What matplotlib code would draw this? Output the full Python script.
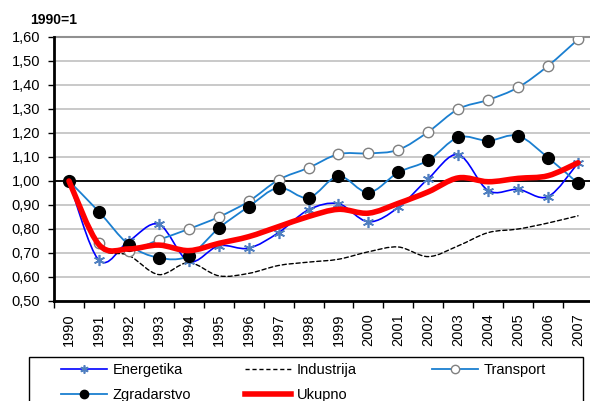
#Indeks emisija po sektorima, 1990=1
import matplotlib
matplotlib.use('Agg')
import matplotlib.pyplot as plt
from matplotlib.path import Path
from matplotlib.patches import PathPatch, Rectangle
from matplotlib.lines import Line2D
from matplotlib.ticker import MultipleLocator, FuncFormatter, FixedLocator

plt.rcParams['font.family'] = ['Liberation Sans', 'DejaVu Sans']

years = [str(y) for y in range(1990, 2008)]

Energetika = [1.00, 0.67, 0.75, 0.82, 0.665, 0.73, 0.72, 0.785, 0.88, 0.905, 0.83, 0.89,
              1.01, 1.11, 0.96, 0.965, 0.935, 1.075]
Industrija = [1.00, 0.73, 0.69, 0.61, 0.66, 0.605, 0.615, 0.648, 0.662, 0.674, 0.705, 0.725,
              0.685, 0.73, 0.785, 0.80, 0.825, 0.855]
Transport = [1.00, 0.74, 0.71, 0.755, 0.80, 0.85, 0.915, 1.005, 1.055, 1.112, 1.115, 1.13,
             1.205, 1.30, 1.338, 1.39, 1.48, 1.59]
Zgradarstvo = [1.00, 0.872, 0.735, 0.68, 0.688, 0.803, 0.893, 0.972, 0.93, 1.02, 0.952, 1.036,
               1.086, 1.182, 1.168, 1.188, 1.097, 0.99]
Ukupno = [1.00, 0.735, 0.717, 0.733, 0.71, 0.74, 0.768, 0.81, 0.852, 0.882, 0.866, 0.907,
          0.955, 1.013, 0.997, 1.011, 1.022, 1.076]


def smooth_path(x, y):
    #Excel-style smoothed line: bezier segments through the data points
    pts = list(zip(x, y))
    n = len(pts)
    verts = [pts[0]]
    codes = [Path.MOVETO]
    for i in range(n - 1):
        p0 = pts[max(i - 1, 0)]
        p1 = pts[i]
        p2 = pts[i + 1]
        p3 = pts[min(i + 2, n - 1)]
        c1 = (p1[0] + (p2[0] - p0[0]) / 6.0, p1[1] + (p2[1] - p0[1]) / 6.0)
        c2 = (p2[0] - (p3[0] - p1[0]) / 6.0, p2[1] - (p3[1] - p1[1]) / 6.0)
        verts += [c1, c2, p2]
        codes += [Path.CURVE4] * 3
    return Path(verts, codes)


fig = plt.figure(figsize=(5.9, 4.01), dpi=100)
W, H = 590.0, 401.0
ax = fig.add_axes([54 / W, 1 - 301 / H, (593 - 54) / W, (301 - 37) / H])

x = list(range(len(years)))

series = [
    (Energetika, dict(color='#0000FF', lw=1.2, ls='-'),
     dict(marker=(6, 2, 0), ms=8, mec='#4F7FC0', mfc='#4F7FC0', mew=1.2), 'Energetika', 3),
    (Industrija, dict(color='black', lw=1.0, ls=(0, (3, 2))), None, 'Industrija', 3),
    (Transport, dict(color='#1a7fd0', lw=1.3, ls='-'),
     dict(marker='o', ms=7.5, mec='#808080', mfc='white', mew=1.0), 'Transport', 4),
    (Zgradarstvo, dict(color='#1a7fd0', lw=1.3, ls='-'),
     dict(marker='o', ms=8.5, mec='black', mfc='black', mew=1.0), 'Zgradarstvo', 5),
    (Ukupno, dict(color='#FF0000', lw=4.0, ls='-'), None, 'Ukupno', 6),
]

handles = {}
for vals, lstyle, mstyle, name, z in series:
    patch = PathPatch(smooth_path(x, vals), fill=False, edgecolor=lstyle['color'],
                      lw=lstyle['lw'], linestyle=lstyle['ls'], zorder=z, capstyle='round')
    ax.add_patch(patch)
    if mstyle is not None:
        ax.plot(x, vals, linestyle='none', zorder=z + 0.5, **mstyle)
        ls = dict(mstyle)
        ls['ms'] = 6
        h = Line2D([], [], color=lstyle['color'], lw=lstyle['lw'], **ls)
    else:
        h = Line2D([], [], color=lstyle['color'], lw=lstyle['lw'], linestyle=lstyle['ls'])
    handles[name] = h

ax.set_xlim(-0.5, len(years) - 0.5)
ax.set_ylim(0.5, 1.6)

#y axis
ax.yaxis.set_major_locator(MultipleLocator(0.1))
ax.yaxis.set_major_formatter(FuncFormatter(lambda v, p: ('%.2f' % v).replace('.', ',')))
ax.tick_params(axis='y', labelsize=10.5, length=4, width=1, direction='out', pad=6)
ax.grid(axis='y', color='#c0c0c0', lw=1.2, zorder=0)
ax.set_axisbelow(True)
ax.axhline(1.0, color='black', lw=1.3, zorder=2)
ax.axhline(1.6, color='#909090', lw=1.5, zorder=1, clip_on=False)

#x axis, ticks between categories
ax.set_xticks(x)
ax.set_xticklabels(years, rotation=90)
ax.tick_params(axis='x', which='major', length=0, labelsize=10.5, pad=9)
ax.xaxis.set_minor_locator(FixedLocator([i - 0.5 for i in range(len(years) + 1)]))
ax.tick_params(axis='x', which='minor', length=5, width=1, direction='out')

for s in ['top', 'right']:
    ax.spines[s].set_visible(False)
ax.spines['left'].set_linewidth(2)
ax.spines['bottom'].set_linewidth(2)

fig.text(30 / W, 1 - 20 / H, '1990=1', fontsize=10, fontweight='bold', va='center', ha='left')

#legend box (runs past the bottom edge like in the original)
fig.patches.append(Rectangle((29 / W, -0.1), (583 - 29) / W, 1 - 357 / H + 0.1,
                             transform=fig.transFigure, fill=False, ec='black', lw=1.0))

#three legend columns with equal spacing
columns = [(61, ['Energetika', 'Zgradarstvo']), (245, ['Industrija', 'Ukupno']), (432, ['Transport'])]
for xpos, names in columns:
    leg = fig.legend([handles[k] for k in names], names, loc='upper left',
                     bbox_to_anchor=(xpos / W, 1 - 363 / H), frameon=False, fontsize=10.5,
                     handlelength=3.15, handletextpad=0.4, labelspacing=0.75,
                     borderpad=0, borderaxespad=0)

fig.savefig('out.png', dpi=100)
